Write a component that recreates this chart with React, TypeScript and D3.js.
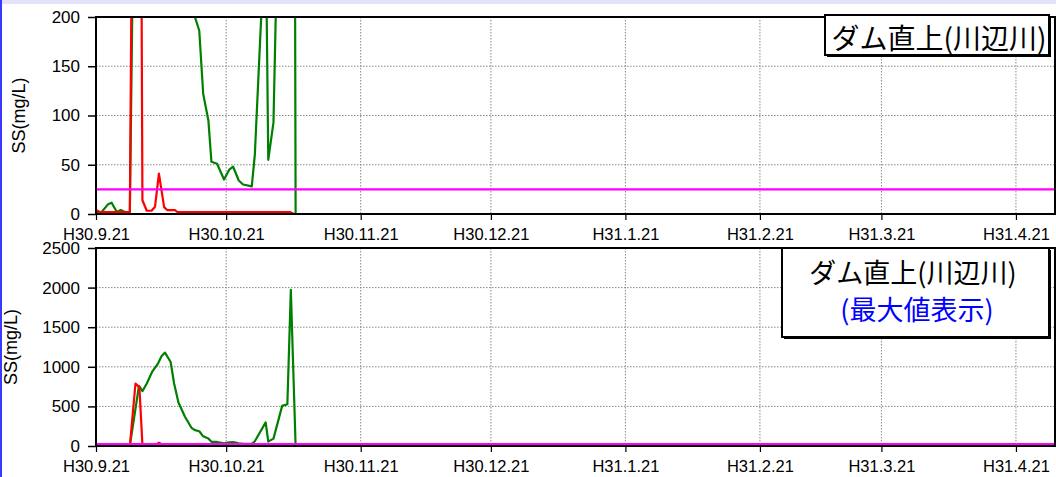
import * as d3 from 'd3';
import { useEffect, useRef } from 'react';

const startDate = '2018-09-21';
const endDate = '2019-04-30';
const tickDates = ['2018-09-21', '2018-10-21', '2018-11-21', '2018-12-21', '2019-01-21', '2019-02-21', '2019-03-21', '2019-04-21'];
const tickLabels = ['H30.9.21', 'H30.10.21', 'H30.11.21', 'H30.12.21', 'H31.1.21', 'H31.2.21', 'H31.3.21', 'H31.4.21'];

// days elapsed since H30.9.21
const greenDays = [0, 1.3, 2.8, 3.6, 4.8, 5.7, 6.7, 7.8, 9.9, 10.7, 11.7, 13, 14.2, 15.1, 15.9, 17.2, 18, 19, 20.5, 22, 22.8, 23.8, 24.7, 25.9, 26.6, 27.9, 29.5, 30.7, 31.6, 32.9, 33.9, 35.9, 36.6, 39.1, 39.7, 40.9, 42.9, 44.1, 44.9, 46];
const greenValues = [2, 2, 10, 11.5, 2, 4, 2, 2, 759, 692, 789, 943, 1032, 1132, 1179, 1061, 789, 550, 369, 230, 200, 186, 122, 95, 53, 51, 35, 45, 48, 34, 30, 28, 60, 298, 55, 93, 507, 528, 1971, 0];
const redDays = [0, 0.9, 7.8, 9.1, 10, 10.7, 11.7, 12.8, 13.6, 14.5, 15.7, 16.4, 18.2, 18.7, 44.7, 45.6];
const redValues = [4, 2, 2, 789, 740, 14, 3.3, 3.3, 7.4, 41, 7, 4, 4, 2, 2, 0];
const standardValue = 25;

const topTicks = [0, 50, 100, 150, 200];
const bottomTicks = [0, 500, 1000, 1500, 2000, 2500];
const yTitle = 'SS(mg/L)';
const boxTitle = 'ダム直上(川辺川)';
const boxNote = '(最大値表示)';

const W = 1056;
const H = 477;
const left = 96;
const right = 1055;
const tickFont = '"Liberation Sans", Arial, sans-serif';
const jpFont = '"Noto Sans CJK JP", sans-serif';

export default function App() {
  const ref = useRef<SVGSVGElement | null>(null);

  useEffect(() => {
    document.body.style.margin = '0';
    if (!ref.current) return;
    const svg = d3.select(ref.current);
    svg.selectAll('*').remove();

    const parse = d3.timeParse('%Y-%m-%d');
    const t0 = parse(startDate) as Date;
    const t1 = parse(endDate) as Date;
    const toDate = (d: number) => new Date(t0.getTime() + d * 86400000);
    const x = d3.scaleTime().domain([t0, t1]).range([left, right]);
    const ticks = tickDates.map((s) => parse(s) as Date);

    svg.append('rect').attr('width', W).attr('height', H).attr('fill', '#fff');
    svg.append('rect').attr('width', W).attr('height', 4).attr('fill', '#e2e2fa');
    svg.append('rect').attr('width', 2).attr('height', H).attr('fill', '#3a3aff');

    const green = greenDays.map((d, i) => ({ t: toDate(d), v: greenValues[i] }));
    const red = redDays.map((d, i) => ({ t: toDate(d), v: redValues[i] }));

    const panels = [
      { top: 17, bottom: 214, ticks: topTicks, titleX: 19, id: 'p1' },
      { top: 248, bottom: 446, ticks: bottomTicks, titleX: 11, id: 'p2' },
    ];

    panels.forEach((p) => {
      const y = d3
        .scaleLinear()
        .domain([0, p.ticks[p.ticks.length - 1]])
        .range([p.bottom, p.top]);
      const g = svg.append('g');

      g.append('clipPath')
        .attr('id', p.id)
        .append('rect')
        .attr('x', left)
        .attr('y', p.top)
        .attr('width', right - left)
        .attr('height', p.bottom - p.top);

      // grid
      g.selectAll('.hg')
        .data(p.ticks.slice(1, -1))
        .enter()
        .append('line')
        .attr('x1', left)
        .attr('x2', right)
        .attr('y1', (d) => y(d))
        .attr('y2', (d) => y(d))
        .attr('stroke', '#888')
        .attr('stroke-width', 1)
        .attr('stroke-dasharray', '1.5,1.5');
      g.selectAll('.vg')
        .data(ticks.slice(1))
        .enter()
        .append('line')
        .attr('x1', (d) => x(d))
        .attr('x2', (d) => x(d))
        .attr('y1', p.top)
        .attr('y2', p.bottom)
        .attr('stroke', '#888')
        .attr('stroke-width', 1)
        .attr('stroke-dasharray', '1.5,1.5');

      const line = d3
        .line<{ t: Date; v: number }>()
        .x((d) => x(d.t))
        .y((d) => y(d.v));
      const plot = g.append('g').attr('clip-path', `url(#${p.id})`);
      plot.append('path').datum(green).attr('d', line).attr('fill', 'none').attr('stroke', '#008000').attr('stroke-width', 2.2).attr('stroke-linejoin', 'round');
      plot.append('path').datum(red).attr('d', line).attr('fill', 'none').attr('stroke', '#ff0000').attr('stroke-width', 2.2).attr('stroke-linejoin', 'round');
      plot
        .append('line')
        .attr('x1', left)
        .attr('x2', right)
        .attr('y1', y(standardValue))
        .attr('y2', y(standardValue))
        .attr('stroke', '#ff00ff')
        .attr('stroke-width', 2.2);

      // frame
      g.append('rect')
        .attr('x', left)
        .attr('y', p.top)
        .attr('width', right - left)
        .attr('height', p.bottom - p.top)
        .attr('fill', 'none')
        .attr('stroke', '#000')
        .attr('stroke-width', 2);

      const ya = g
        .append('g')
        .attr('transform', `translate(${left},0)`)
        .call(d3.axisLeft(y).tickValues(p.ticks).tickSize(8).tickPadding(8).tickFormat(d3.format('d')));
      ya.select('.domain').remove();
      ya.selectAll('line').attr('stroke', '#000').attr('stroke-width', 1.5);
      ya.selectAll('text').attr('font-family', tickFont).attr('font-size', 17).attr('fill', '#000');

      const xa = g
        .append('g')
        .attr('transform', `translate(0,${p.bottom})`)
        .call(
          d3
            .axisBottom(x)
            .tickValues(ticks)
            .tickSize(6)
            .tickPadding(8)
            .tickFormat((_d, i) => tickLabels[i])
        );
      xa.select('.domain').remove();
      xa.selectAll('line').attr('stroke', '#000').attr('stroke-width', 1.2);
      xa.selectAll('text').attr('font-family', tickFont).attr('font-size', 16.5).attr('fill', '#000');

      svg
        .append('text')
        .attr('transform', `translate(${p.titleX},${(p.top + p.bottom) / 2}) rotate(-90)`)
        .attr('text-anchor', 'middle')
        .attr('dominant-baseline', 'central')
        .attr('font-family', tickFont)
        .attr('font-size', 18)
        .text(yTitle);
    });

    // title boxes
    const box = (bx: number, by: number, bw: number, bh: number) => {
      svg.append('rect').attr('x', bx + 2).attr('y', by + 2).attr('width', bw).attr('height', bh).attr('fill', '#000');
      svg.append('rect').attr('x', bx).attr('y', by).attr('width', bw).attr('height', bh).attr('fill', '#fff').attr('stroke', '#000').attr('stroke-width', 2);
    };
    box(825, 15, 224, 40);
    svg
      .append('text')
      .attr('x', 939)
      .attr('y', 49)
      .attr('text-anchor', 'middle')
      .attr('font-family', jpFont)
      .attr('font-size', 28)
      .text(boxTitle);

    box(782, 248, 267, 89);
    svg
      .append('text')
      .attr('x', 913)
      .attr('y', 283)
      .attr('text-anchor', 'middle')
      .attr('font-family', jpFont)
      .attr('font-size', 27)
      .text(boxTitle);
    svg
      .append('text')
      .attr('x', 917)
      .attr('y', 320)
      .attr('text-anchor', 'middle')
      .attr('font-family', jpFont)
      .attr('font-size', 27)
      .attr('fill', '#0000ff')
      .text(boxNote);
  }, []);

  return <svg ref={ref} width={W} height={H} style={{ display: 'block' }} />;
}
